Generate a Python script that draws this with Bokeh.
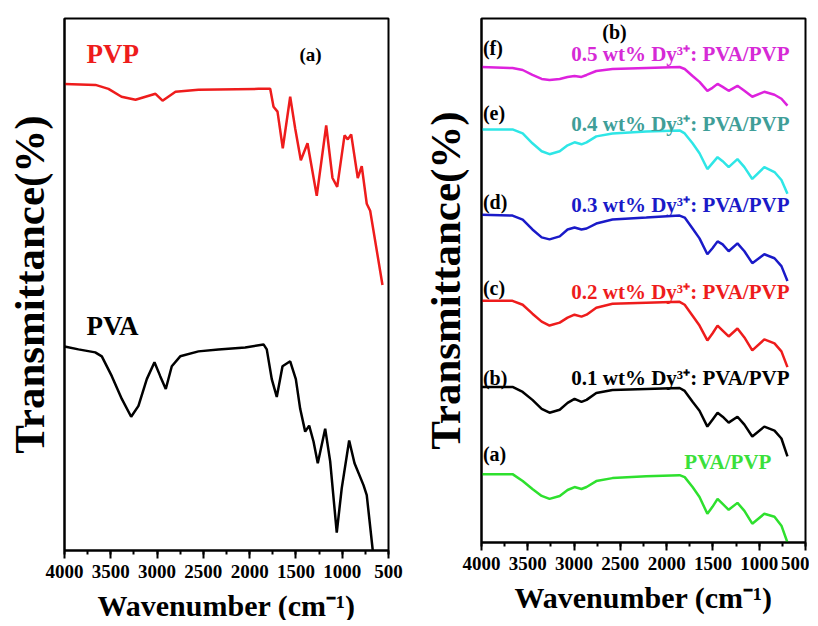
from bokeh.plotting import figure
from bokeh.models import Range1d, Label, SingleIntervalTicker, FixedTicker
from bokeh.layouts import row
from bokeh.embed import file_html
from bokeh.resources import INLINE

# ---------------- data ----------------
# Panel (a): pure polymers, transmittance in arbitrary units (offset stacked)
pvp_wn = [4000, 3665, 3525, 3384, 3233, 3017, 2941, 2801, 2553, 1904, 1778, 1742, 1699, 1642,
          1562, 1508, 1447, 1375, 1275, 1173, 1105, 1054, 975, 940, 903, 832, 789, 735, 698, 565]
pvp_t = [471, 470, 466, 458, 455, 461, 454, 463, 465, 466, 466, 448, 443, 406,
         458, 426, 394, 411, 358, 429, 376, 367, 419, 415, 420, 376, 388, 350, 343, 268]

pva_wn = [4000, 3849, 3668, 3597, 3489, 3381, 3280, 3201, 3111, 3028, 2966, 2906, 2841, 2750,
          2553, 2337, 2048, 1850, 1815, 1761, 1707, 1645, 1562, 1501, 1454, 1400, 1357, 1310,
          1264, 1184, 1130, 1059, 1005, 925, 867, 770, 735, 670]
pva_t = [206, 203, 200, 196, 176, 153, 135, 146, 173, 190, 176, 163, 186, 196,
         201, 203, 205, 208, 203, 173, 155, 186, 191, 173, 143, 120, 126, 110,
         88, 123, 90, 18, 63, 111, 88, 66, 56, 0]

# Panel (b): Dy3+ doped PVA/PVP blends
blend_wn = [4000, 3665, 3555, 3450, 3350, 3265, 3155, 3070, 2995, 2920, 2865, 2760, 2585, 2220,
            1860, 1805, 1720, 1645, 1560, 1505, 1450, 1395, 1330, 1235, 1160, 1075, 945, 835, 760, 695]
t_a = [69, 69, 62, 54, 47, 44, 47, 53, 56, 54, 56, 62, 65, 67,
       68, 66, 56, 46, 29, 36, 44, 39, 33, 40, 32, 19, 29, 26, 17, 0]
t_b = [157, 157, 152, 144, 135, 131, 134, 141, 145, 142, 144, 151, 154, 155,
       156, 153, 142, 133, 117, 124, 131, 127, 121, 127, 119, 107, 117, 113, 105, 87]
t_c = [244, 244, 240, 231, 223, 219, 222, 227, 230, 228, 230, 237, 241, 242,
       243, 240, 229, 219, 204, 211, 219, 214, 208, 216, 207, 194, 205, 201, 193, 177]
t_d = [331, 330, 326, 316, 308, 306, 309, 316, 318, 316, 317, 322, 326, 328,
       330, 328, 317, 307, 291, 297, 304, 301, 294, 302, 294, 282, 291, 287, 279, 264]
t_e = [417, 417, 413, 403, 395, 392, 395, 401, 404, 402, 404, 410, 413, 415,
       416, 413, 403, 393, 377, 383, 389, 385, 379, 387, 379, 367, 379, 374, 366, 352]
t_f = [480, 479, 477, 472, 468, 467, 468, 470, 471, 470, 472, 476, 478, 479,
       480, 478, 471, 465, 456, 459, 463, 460, 456, 461, 456, 450, 455, 452, 448, 441]

blend_letters = ["(a)", "(b)", "(c)", "(d)", "(e)", "(f)"]
blend_names = ["PVA/PVP",
               "0.1 wt% Dy\u00b3\u207a: PVA/PVP",
               "0.2 wt% Dy\u00b3\u207a: PVA/PVP",
               "0.3 wt% Dy\u00b3\u207a: PVA/PVP",
               "0.4 wt% Dy\u00b3\u207a: PVA/PVP",
               "0.5 wt% Dy\u00b3\u207a: PVA/PVP"]

FONT = "Liberation Serif"
X_TITLE = "Wavenumber (cm\u207b\u00b9)"
Y_TITLE = "Transmittance(%)"


def style(p, y_standoff):
    p.outline_line_color = "black"
    p.outline_line_width = 2
    p.xgrid.visible = False
    p.ygrid.visible = False
    p.background_fill_color = "white"
    p.border_fill_color = "white"
    xa = p.xaxis[0]
    xa.ticker = SingleIntervalTicker(interval=500, num_minor_ticks=2)
    xa.major_tick_out = 8
    xa.major_tick_in = 0
    xa.minor_tick_out = 4
    xa.minor_tick_in = 0
    xa.major_tick_line_width = 2
    xa.minor_tick_line_width = 2
    xa.axis_line_width = 2
    xa.major_label_text_font = FONT
    xa.major_label_text_font_style = "bold"
    xa.major_label_text_font_size = "19px"
    xa.major_label_text_color = "black"
    xa.major_label_standoff = 6
    xa.axis_label = X_TITLE
    xa.axis_label_text_font = FONT
    xa.axis_label_text_font_style = "bold"
    xa.axis_label_text_font_size = "30px"
    xa.axis_label_text_color = "black"
    xa.axis_label_standoff = 8
    ya = p.yaxis[0]
    ya.ticker = FixedTicker(ticks=[])
    ya.major_tick_out = 0
    ya.major_tick_in = 0
    ya.minor_tick_out = 0
    ya.major_label_standoff = 0
    ya.axis_line_width = 2
    ya.axis_label = Y_TITLE
    ya.axis_label_text_font = FONT
    ya.axis_label_text_font_style = "bold"
    ya.axis_label_text_font_size = "43px"
    ya.axis_label_text_color = "black"
    ya.axis_label_standoff = y_standoff


def lab(p, x, y, text, color, size, align="left"):
    p.add_layout(Label(x=x, y=y, text=text, text_color=color, text_font=FONT,
                       text_font_style="bold", text_font_size=size,
                       text_align=align, text_baseline="middle"))


# ---------------- panel (a) ----------------
p1 = figure(frame_width=324, frame_height=532, x_range=Range1d(4000, 500),
            y_range=Range1d(0, 537), output_backend="svg", toolbar_location=None,
            min_border_left=64, min_border_right=30, min_border_top=14, min_border_bottom=40)
style(p1, 12)
p1.line(pvp_wn, pvp_t, line_color="#ee1c1c", line_width=2.5)
p1.line(pva_wn, pva_t, line_color="black", line_width=2.5)
lab(p1, 3762, 501, "PVP", "#ee1c1c", "27px")
lab(p1, 1343, 501, "(a)", "black", "19px", "center")
lab(p1, 3762, 227, "PVA", "black", "27px")

# ---------------- panel (b) ----------------
p2 = figure(frame_width=324, frame_height=524, x_range=Range1d(4000, 500),
            y_range=Range1d(0, 529), output_backend="svg", toolbar_location=None,
            min_border_left=62, min_border_right=4, min_border_top=18, min_border_bottom=40)
style(p2, 13)
series = [t_a, t_b, t_c, t_d, t_e, t_f]
line_colors = ["#2ee02e", "black", "#ee1c1c", "#1a1ac8", "#2ee6e6", "#dd22dd"]
text_colors = ["#3ae03a", "black", "#ee1c1c", "#1a1ac8", "#3f9e98", "#d62ad6"]
letter_y = [89, 166, 257, 344, 434, 499]
name_y = [81, 166, 253, 341, 422, 493]
name_x = [868, 673, 673, 673, 673, 673]
for s, lc, tc, ly, ny, nx, lt, nm in zip(series, line_colors, text_colors, letter_y,
                                          name_y, name_x, blend_letters, blend_names):
    p2.line(blend_wn, s, line_color=lc, line_width=2.5)
    lab(p2, 3985, ly, lt, "black", "20px")
    lab(p2, nx, ny, nm, tc, "21px", "right")
lab(p2, 2563, 515, "(b)", "black", "20px", "center")

layout = row(p1, p2)
open("out.html", "w").write(file_html(layout, INLINE))
